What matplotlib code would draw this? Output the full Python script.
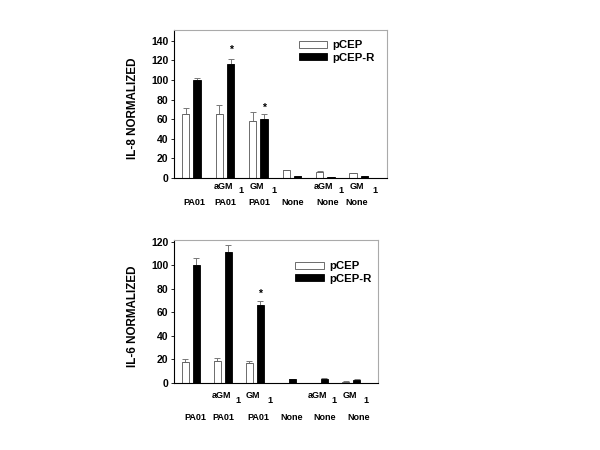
import numpy as np
import matplotlib
matplotlib.use('Agg')
import matplotlib.pyplot as plt

plt.rcParams['font.family'] = ['Liberation Sans', 'DejaVu Sans']
plt.rcParams['font.weight'] = 'bold'

# treatment labels under each group (two rows: modifier + subscript, then strain)
row_top = ['', 'aGM', 'GM', '', 'aGM', 'GM']
row_bottom = ['PA01', 'PA01', 'PA01', 'None', 'None', 'None']
series = ['pCEP', 'pCEP-R']

# IL-8
il8_pcep = [65, 65, 58, 7.8, 6.4, 5.0]
il8_pcep_err = [6, 9, 9, 0.5, 0.4, 0.4]
il8_pcepr = [100, 116, 60, 2.0, 1.0, 1.7]
il8_pcepr_err = [2.5, 5.5, 5, 0.3, 0.2, 0.3]
il8_star = [None, 131, 72, None, None, None]
il8_ticks = [0, 20, 40, 60, 80, 100, 120, 140]

# IL-6
il6_pcep = [17.5, 19, 17, 0.3, 0.3, 1.1]
il6_pcep_err = [3, 2.5, 1.5, 0.1, 0.1, 0.3]
il6_pcepr = [100, 111.5, 66, 3.4, 3.7, 2.8]
il6_pcepr_err = [6, 5.5, 4, 0.3, 0.3, 0.3]
il6_star = [None, None, 76, None, None, None]
il6_ticks = [0, 20, 40, 60, 80, 100, 120]

fig = plt.figure(figsize=(6, 4.5), dpi=100)
ax1 = fig.add_axes([0.29, 0.6044, 0.355, 0.329])
ax2 = fig.add_axes([0.29, 0.1489, 0.34, 0.3178])


def draw(ax, white, werr, black, berr, stars, ymax, ticks, ylabel, top_off, sub_off,
         bot_off, bot_shift, leg_anchor, lab_x):
    x = np.arange(len(white))
    w = 0.22
    d = 0.17
    ax.bar(x - d, white, w, color='white', edgecolor='#555555', linewidth=0.6,
           label=series[0], zorder=2)
    ax.bar(x + d, black, w, color='black', edgecolor='black', linewidth=0.6,
           label=series[1], zorder=2)
    ax.errorbar(x - d, white, yerr=[np.zeros(len(werr)), werr], fmt='none',
                ecolor='#777777', elinewidth=0.7, capsize=2, capthick=0.7, zorder=1)
    ax.errorbar(x + d, black, yerr=[np.zeros(len(berr)), berr], fmt='none',
                ecolor='#777777', elinewidth=0.7, capsize=2, capthick=0.7, zorder=1)
    for i, s in enumerate(stars):
        if s is not None:
            ax.text(x[i] + d, s, '*', ha='center', va='center', fontsize=7.5,
                    fontweight='bold')

    ax.set_xlim(-0.52, 5.84)
    ax.set_ylim(0, ymax)
    ax.set_xticks([])
    ax.set_yticks(ticks)
    ax.tick_params(axis='y', direction='out', length=2, width=0.6, labelsize=7.5, pad=2)
    for lab in ax.get_yticklabels():
        lab.set_fontweight('bold')
    for side in ['top', 'right']:
        ax.spines[side].set_color('#aaaaaa')
        ax.spines[side].set_linewidth(0.8)
    for side in ['left', 'bottom']:
        ax.spines[side].set_color('black')
        ax.spines[side].set_linewidth(0.8)

    ax.set_ylabel(ylabel, fontsize=8.4, fontweight='bold')
    ax.yaxis.set_label_coords(lab_x, 0.47)

    tr = ax.get_xaxis_transform()
    for i, t in enumerate(row_top):
        if t:
            ax.text(x[i] - 0.05, top_off, t, transform=tr, ha='center', va='center',
                    fontsize=6.5, fontweight='bold')
            ax.text(x[i] + 0.48, sub_off, '1', transform=tr, ha='center', va='center',
                    fontsize=6.5, fontweight='bold')
    for i, t in enumerate(row_bottom):
        ax.text(x[i] + bot_shift[i], bot_off, t, transform=tr, ha='center', va='center',
                fontsize=6.5, fontweight='bold')

    ax.legend(loc='upper left', bbox_to_anchor=leg_anchor, frameon=False,
              fontsize=8.2, handlelength=2.5, handleheight=0.62, labelspacing=0.2,
              handletextpad=0.5, borderpad=0, borderaxespad=0)


draw(ax1, il8_pcep, il8_pcep_err, il8_pcepr, il8_pcepr_err, il8_star, 151, il8_ticks,
     'IL-8 NORMALIZED', -0.054, -0.081, -0.162, [0.1, 0.0, 0.04, 0.03, 0.07, -0.06],
     (0.585, 0.93), -0.165)
draw(ax2, il6_pcep, il6_pcep_err, il6_pcepr, il6_pcepr_err, il6_star, 121.5, il6_ticks,
     'IL-6 NORMALIZED', -0.084, -0.119, -0.238, [0.16, 0.02, 0.11, 0.15, 0.19, 0.23],
     (0.595, 0.85), -0.17)

fig.savefig('out.png', dpi=100)
